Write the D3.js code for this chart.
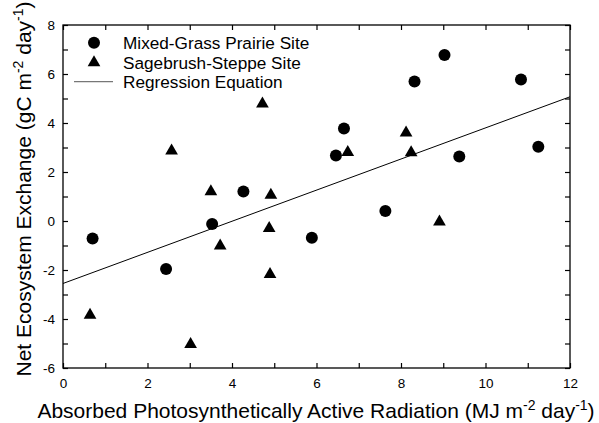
<!DOCTYPE html>
<html>
<head>
<meta charset="utf-8">
<script src="https://cdn.jsdelivr.net/npm/d3@7"></script>
<style>
  html, body { margin: 0; padding: 0; background: #fff; }
  svg { display: block; }
  text { font-family: "Liberation Sans", Arial, sans-serif; fill: #000; }
</style>
</head>
<body>
<svg id="chart" width="599" height="423"></svg>
<script>
// Data
const mixedGrassX = [0.70, 2.44, 3.53, 4.27, 5.89, 6.46, 6.65, 7.63, 8.32, 9.03, 9.38, 10.84, 11.25];
const mixedGrassY = [-0.71, -1.96, -0.12, 1.20, -0.68, 2.67, 3.78, 0.41, 5.69, 6.78, 2.63, 5.78, 3.03];
const sagebrushX = [0.64, 2.57, 3.02, 3.50, 3.72, 4.72, 4.88, 4.90, 4.92, 6.74, 8.12, 8.24, 8.91];
const sagebrushY = [-3.84, 2.86, -5.03, 1.20, -1.01, 4.78, -0.30, -2.18, 1.06, 2.80, 3.60, 2.79, -0.03];
const regressionX = [0, 12];
const regressionY = [-2.55, 5.07];
const xTicks = [0, 2, 4, 6, 8, 10, 12];
const yTicks = [-6, -4, -2, 0, 2, 4, 6, 8];
const xMinorTicks = d3.range(0, 13, 1);
const yMinorTicks = d3.range(-6, 9, 1);
const legendLabels = ["Mixed-Grass Prairie Site", "Sagebrush-Steppe Site", "Regression Equation"];

const svg = d3.select("#chart");
const margin = { left: 63, top: 25, right: 29, bottom: 55 };
const W = 599, H = 423;
const x = d3.scaleLinear().domain([0, 12]).range([margin.left, W - margin.right]);
const y = d3.scaleLinear().domain([-6, 8]).range([H - margin.bottom, margin.top]);

// Frame
svg.append("rect")
  .attr("x", x(0)).attr("y", y(8))
  .attr("width", x(12) - x(0)).attr("height", y(-6) - y(8))
  .attr("fill", "none").attr("stroke", "#000").attr("stroke-width", 1.3);

const tickLen = 5;
function styleAxis(g) {
  g.select(".domain").remove();
  g.selectAll(".tick line").attr("stroke", "#000").attr("stroke-width", 1.2);
}
// Inward ticks on all four sides, every unit
svg.append("g").attr("transform", `translate(0,${y(-6)})`)
  .call(d3.axisBottom(x).tickValues(xMinorTicks).tickSize(-tickLen).tickFormat(""))
  .call(styleAxis);
svg.append("g").attr("transform", `translate(0,${y(8)})`)
  .call(d3.axisTop(x).tickValues(xMinorTicks).tickSize(-tickLen).tickFormat(""))
  .call(styleAxis);
svg.append("g").attr("transform", `translate(${x(0)},0)`)
  .call(d3.axisLeft(y).tickValues(yMinorTicks).tickSize(-tickLen).tickFormat(""))
  .call(styleAxis);
svg.append("g").attr("transform", `translate(${x(12)},0)`)
  .call(d3.axisRight(y).tickValues(yMinorTicks).tickSize(-tickLen).tickFormat(""))
  .call(styleAxis);

// Tick labels
svg.append("g").attr("transform", `translate(0,${y(-6)})`)
  .call(d3.axisBottom(x).tickValues(xTicks).tickSize(0).tickPadding(10).tickFormat(d3.format("d")))
  .call(g => g.select(".domain").remove())
  .call(g => g.selectAll("text").attr("font-size", 13.5).attr("font-family", "Liberation Sans, Arial, sans-serif"));
svg.append("g").attr("transform", `translate(${x(0)},0)`)
  .call(d3.axisLeft(y).tickValues(yTicks).tickSize(0).tickPadding(8).tickFormat(d => String(d)))
  .call(g => g.select(".domain").remove())
  .call(g => g.selectAll("text").attr("font-size", 13.5).attr("font-family", "Liberation Sans, Arial, sans-serif"));

// Regression line
svg.append("line")
  .attr("x1", x(regressionX[0])).attr("y1", y(regressionY[0]))
  .attr("x2", x(regressionX[1])).attr("y2", y(regressionY[1]))
  .attr("stroke", "#000").attr("stroke-width", 1);

// Points
const circleSym = d3.symbol().type(d3.symbolCircle).size(Math.PI * 36);
const triSym = d3.symbol().type(d3.symbolTriangle).size(70);
svg.append("g").selectAll("path")
  .data(d3.zip(mixedGrassX, mixedGrassY)).join("path")
  .attr("d", circleSym)
  .attr("transform", d => `translate(${x(d[0])},${y(d[1])})`)
  .attr("fill", "#000");
svg.append("g").selectAll("path")
  .data(d3.zip(sagebrushX, sagebrushY)).join("path")
  .attr("d", triSym)
  .attr("transform", d => `translate(${x(d[0])},${y(d[1])})`)
  .attr("fill", "#000");

// Legend
const leg = svg.append("g");
const legY = [42.7, 62.7, 81.7];
leg.append("path").attr("d", circleSym).attr("transform", `translate(94,${legY[0]})`).attr("fill", "#000");
leg.append("path").attr("d", triSym).attr("transform", `translate(94,${legY[1]})`).attr("fill", "#000");
leg.append("line").attr("x1", 74).attr("x2", 113).attr("y1", legY[2]).attr("y2", legY[2])
  .attr("stroke", "#777").attr("stroke-width", 1.2);
leg.selectAll("text").data(legendLabels).join("text")
  .attr("x", 123).attr("y", (d, i) => legY[i])
  .attr("dy", "0.35em").attr("font-size", 17.2).text(d => d);

// X axis title
const xt = svg.append("text").attr("x", 316).attr("y", 418)
  .attr("text-anchor", "middle").attr("font-size", 21);
xt.append("tspan").text("Absorbed Photosynthetically Active Radiation (MJ m");
xt.append("tspan").attr("dy", -8).attr("font-size", 14).text("-2");
xt.append("tspan").attr("dy", 8).text(" day");
xt.append("tspan").attr("dy", -8).attr("font-size", 14).text("-1");
xt.append("tspan").attr("dy", 8).text(")");

// Y axis title
const yt = svg.append("text")
  .attr("transform", `translate(31,189) rotate(-90)`)
  .attr("text-anchor", "middle").attr("font-size", 21);
yt.append("tspan").text("Net Ecosystem Exchange (gC m");
yt.append("tspan").attr("dy", -8).attr("font-size", 14).text("-2");
yt.append("tspan").attr("dy", 8).text(" day");
yt.append("tspan").attr("dy", -8).attr("font-size", 14).text("-1");
yt.append("tspan").attr("dy", 8).text(")");
</script>
</body>
</html>
